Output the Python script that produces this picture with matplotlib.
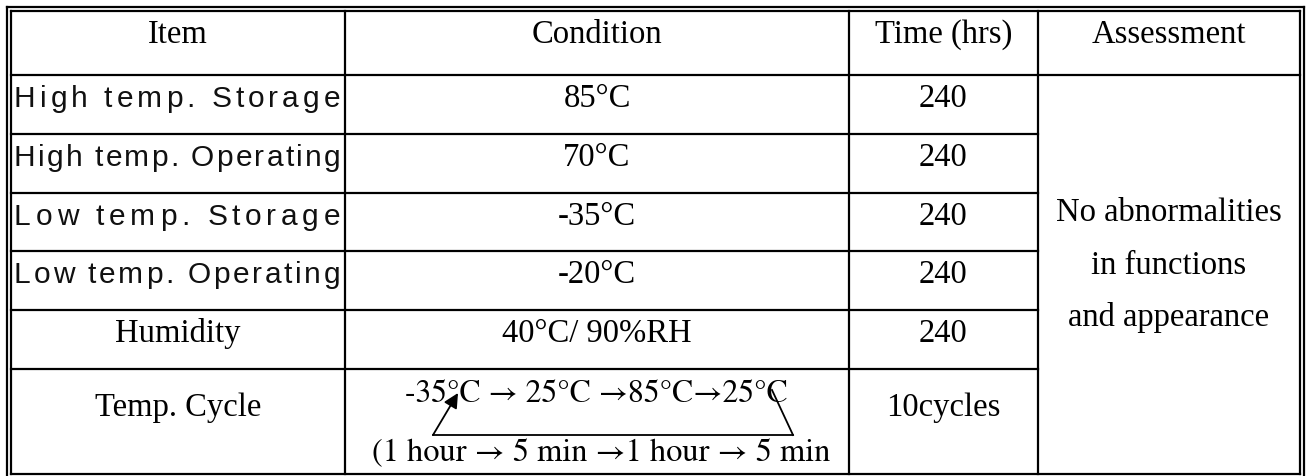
import matplotlib
matplotlib.use('Agg')
import matplotlib.pyplot as plt
from matplotlib import font_manager
from matplotlib.font_manager import FontProperties

# table content
headers = ['Item', 'Condition', 'Time (hrs)', 'Assessment']
items = ['High temp. Storage', 'High temp. Operating', 'Low temp. Storage',
         'Low temp. Operating', 'Humidity', 'Temp. Cycle']
conditions = ['85°C', '70°C', '-35°C', '-20°C', '40°C/ 90%RH']
cycle_lines = ['-35°C \u2192 25°C \u219285°C\u219225°C',
               '(1 hour \u2192 5 min \u21921 hour \u2192 5 min']
times = ['240', '240', '240', '240', '240', '10cycles']
assessment = ['No abnormalities', 'in functions', 'and appearance']

# layout in pixels (figure is 1306 x 476 at dpi 100)
W, H = 1306, 476
col_x = [11, 345, 849, 1038, 1300]
row_y = [11, 75, 134, 193, 251, 310, 369, 474]
lw = 1.6

serif = ['Liberation Serif', 'DejaVu Serif']
stix = ['STIXGeneral', 'DejaVu Serif']
fs = 23.5
fs_item = 21.5

fig = plt.figure(figsize=(W / 100, H / 100), dpi=100)
ax = fig.add_axes([0, 0, 1, 1])
ax.set_xlim(0, W)
ax.set_ylim(H, 0)
ax.axis('off')

# outer double border
ax.plot([7, 1304], [7, 7], color='black', lw=lw)
ax.plot([7, 7], [7, H], color='black', lw=lw)
ax.plot([1304, 1304], [7, H], color='black', lw=lw)
ax.plot([11, 1300], [11, 11], color='black', lw=lw)
ax.plot([11, 11], [11, 474], color='black', lw=lw)
ax.plot([1300, 1300], [11, 474], color='black', lw=lw)
ax.plot([11, 1300], [474, 474], color='black', lw=lw)

# inner grid
ax.plot([11, 1300], [75, 75], color='black', lw=lw)
for y in row_y[2:-1]:
    ax.plot([11, col_x[3]], [y, y], color='black', lw=lw)
for x in col_x[1:4]:
    ax.plot([x, x], [11, 474], color='black', lw=lw)

centers = [(col_x[i] + col_x[i + 1]) / 2 for i in range(4)]

for i, h in enumerate(headers):
    ax.text(centers[i], row_y[0] + 32, h, ha='center', va='baseline',
            fontsize=fs, family=serif)


def spaced(s, y, x0=14, x1=340):
    """Draw s with its letters spread out to fill x0..x1."""
    prop = FontProperties(family='Liberation Sans', size=fs_item)
    font = font_manager.get_font(font_manager.findfont(prop))
    font.set_size(fs_item, 100)
    adv = [font.load_char(ord(c)).linearHoriAdvance / 65536 for c in s]
    gap = (x1 - x0 - sum(adv)) / (len(s) - 1)
    x = x0
    for c, a in zip(s, adv):
        if c != ' ':
            ax.text(x, y, c, ha='left', va='baseline', fontsize=fs_item,
                    family=['Liberation Sans', 'DejaVu Sans'], color='#111111')
        x += a + gap


for r in range(4):
    spaced(items[r], row_y[r + 1] + 32)

for r in (4, 5):
    yb = row_y[r + 1] + (32 if r == 4 else 47)
    ax.text(centers[0], yb, items[r], ha='center', va='baseline',
            fontsize=fs, family=serif)

for r, c in enumerate(conditions):
    ax.text(centers[1], row_y[r + 1] + 32, c, ha='center', va='baseline',
            fontsize=fs, family=serif)

ax.text(centers[1] - 1, 402, cycle_lines[0], ha='center', va='baseline',
        fontsize=22.8, family=stix)
ax.text(centers[1] + 4, 461, cycle_lines[1], ha='center', va='baseline',
        fontsize=23.3, family=stix)

# loop arrow of the temperature cycle
ax.plot([793, 433], [435, 435], color='black', lw=1.3)
ax.plot([793, 772], [435, 390], color='black', lw=1.3)
ax.annotate('', xy=(458, 393), xytext=(433, 435),
            arrowprops=dict(arrowstyle='-|>', color='black', lw=1.3,
                            mutation_scale=22, shrinkA=0, shrinkB=0))

for r, t in enumerate(times):
    yb = row_y[r + 1] + (32 if r < 5 else 47)
    ax.text(centers[2], yb, t, ha='center', va='baseline',
            fontsize=fs, family=serif)

for k, line in enumerate(assessment):
    ax.text(centers[3], 221 + 52.5 * k, line, ha='center', va='baseline',
            fontsize=fs, family=serif)

fig.savefig('out.png', dpi=100)
